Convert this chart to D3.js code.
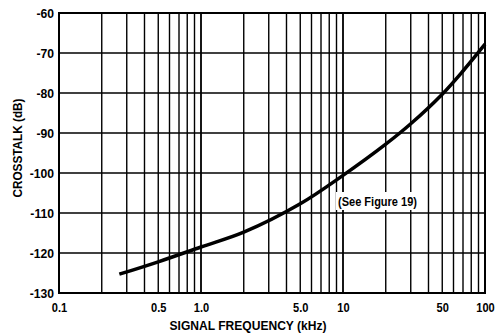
<!DOCTYPE html>
<html><head><meta charset="utf-8">
<script src="https://cdn.jsdelivr.net/npm/d3@7/dist/d3.min.js"></script>
<style>
body{margin:0;background:#fff;}
text{font-family:"Liberation Sans",Arial,sans-serif;font-weight:bold;fill:#000;}
</style></head>
<body><svg id="c" width="499" height="336"></svg>
<script>
const freq = [0.266, 0.5, 1.0, 2.0, 5.0, 10, 20, 30, 50, 70, 100];
const crosstalk = [-125.3, -122.2, -118.5, -114.8, -107.7, -100.6, -92.8, -87.7, -80.3, -74.5, -67.8];
const xTickValues = [0.1, 0.5, 1.0, 5.0, 10, 50, 100];
const xTickLabels = ["0.1", "0.5", "1.0", "5.0", "10", "50", "100"];
const yTickValues = [-60, -70, -80, -90, -100, -110, -120, -130];
const xTitle = "SIGNAL FREQUENCY (kHz)";
const yTitle = "CROSSTALK (dB)";
const note = "(See Figure 19)";

const svg = d3.select("#c");
const L = 59, R = 485, T = 13, B = 293;
const x = d3.scaleLog().domain([0.1, 100]).range([L, R]);
const y = d3.scaleLinear().domain([-130, -60]).range([B, T]);

function condense(sel, f) {
  sel.each(function () {
    const w = this.getComputedTextLength();
    d3.select(this).attr("textLength", w * f).attr("lengthAdjust", "spacingAndGlyphs");
  });
}

const vgrid = [];
[0.1, 1, 10].forEach(d => { for (let k = 1; k <= 10; k++) vgrid.push(d * k); });
svg.append("g").selectAll("line").data(vgrid).join("line")
  .attr("x1", d => x(d)).attr("x2", d => x(d)).attr("y1", T).attr("y2", B)
  .attr("stroke", "#000").attr("stroke-width", 1.4);
svg.append("g").selectAll("line").data(yTickValues).join("line")
  .attr("x1", L).attr("x2", R).attr("y1", d => y(d)).attr("y2", d => y(d))
  .attr("stroke", "#000").attr("stroke-width", 1.4);
svg.append("rect").attr("x", L).attr("y", T).attr("width", R - L).attr("height", B - T)
  .attr("fill", "none").attr("stroke", "#000").attr("stroke-width", 2);

const yAxis = d3.axisLeft(y).tickValues(yTickValues).tickSize(0).tickPadding(5).tickFormat(d => String(d));
const gy = svg.append("g").attr("transform", `translate(${L},0)`).call(yAxis);
gy.select(".domain").remove();
gy.selectAll("text").attr("font-size", 13.5).attr("font-family", null).call(condense, 0.9);

const xAxis = d3.axisBottom(x).tickValues(xTickValues).tickSize(0).tickPadding(9)
  .tickFormat((d, i) => xTickLabels[i]);
const gx = svg.append("g").attr("transform", `translate(0,${B})`).call(xAxis);
gx.select(".domain").remove();
gx.selectAll("text").attr("font-size", 13.5).attr("font-family", null).call(condense, 0.82);

svg.append("text").attr("x", 248).attr("y", 330).attr("text-anchor", "middle")
  .attr("font-size", 13.5).attr("textLength", 157).attr("lengthAdjust", "spacingAndGlyphs").text(xTitle);
svg.append("text").attr("transform", "translate(22,148) rotate(-90)").attr("text-anchor", "middle")
  .attr("font-size", 13).attr("textLength", 99).attr("lengthAdjust", "spacingAndGlyphs").text(yTitle);

const line = d3.line().x((d, i) => x(freq[i])).y(d => y(d)).curve(d3.curveCatmullRom.alpha(0.5));
svg.append("path").datum(crosstalk).attr("d", line)
  .attr("fill", "none").attr("stroke", "#000").attr("stroke-width", 3.5);

svg.append("rect").attr("x", 336).attr("y", 192).attr("width", 83).attr("height", 18).attr("fill", "#fff");
svg.append("text").attr("x", 377.5).attr("y", 206).attr("text-anchor", "middle")
  .attr("font-size", 12.5).attr("textLength", 79).attr("lengthAdjust", "spacingAndGlyphs").text(note);
</script></body></html>
